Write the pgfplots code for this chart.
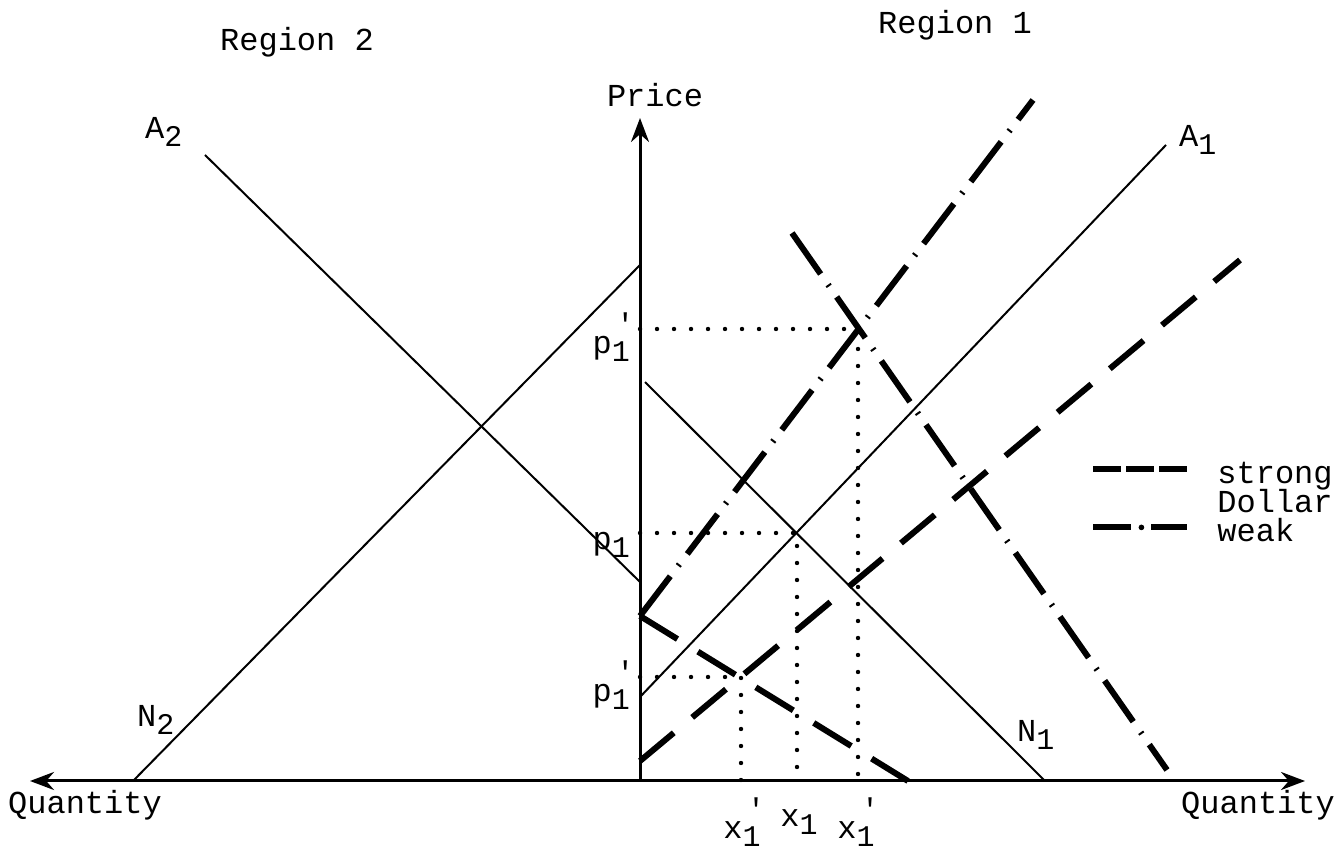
\documentclass[border=0pt]{standalone}
\usepackage{fontspec}
\setmainfont{Liberation Mono}
\usepackage{pgfplots}
\pgfplotsset{compat=1.18}
\usetikzlibrary{arrows.meta}

% subscript, and subscript with a prime stacked above it
\newcommand{\sub}[1]{\raisebox{-0.45ex}{\fontsize{15}{16}\selectfont #1}}
\newcommand{\subp}[1]{\raisebox{-0.45ex}{\fontsize{15}{16}\selectfont\makebox[0pt][l]{\hspace{0.15em}\raisebox{1.7ex}{\textquotesingle}}#1}}

\begin{document}
\begin{tikzpicture}
\begin{axis}[
  x=0.5pt, y=0.5pt,
  xmin=-640, xmax=696,
  ymin=-69, ymax=781,
  hide axis,
  clip=false,
  font=\fontsize{16}{18}\selectfont,
  every node/.append style={inner sep=0pt},
  thinl/.style={black, line width=1pt},
  strong/.style={black, line width=3pt, dash pattern=on 22pt off 12pt},
  weak/.style={black, line width=3pt, dash pattern=on 25pt off 6.5pt on 1pt off 6.5pt},
  dots/.style={black, line width=2.2pt, line cap=round, dash pattern=on 0pt off 8.5pt},
  legend style={at={(axis cs:444,323)}, anchor=north west, draw=none, fill=none,
    font=\fontsize{16}{18}\selectfont, row sep=0.5pt,
    nodes={inner sep=0pt, text height=10.5pt, text depth=3.5pt},
    /tikz/every odd column/.append style={column sep=13.5pt}},
  legend cell align=left,
]
% axes
\addplot[black, line width=1.5pt, {Stealth[length=12pt,width=9pt]}-{Stealth[length=12pt,width=9pt]}, forget plot]
  coordinates {(-610,0) (665,0)};
\addplot[black, line width=1.5pt, -{Stealth[length=12pt,width=9pt]}, forget plot]
  coordinates {(0,0) (0,663)};

% region 2
\addplot[thinl, forget plot] coordinates {(-435,626) (0,199)};   % A2
\addplot[thinl, forget plot] coordinates {(-507,0) (0,516)};     % N2

% region 1
\addplot[thinl, forget plot] coordinates {(5,399) (405,0)};      % N1
\addplot[thinl, forget plot] coordinates {(0,84) (526,636)};     % A1

% strong dollar
\addplot[strong, forget plot] coordinates {(0,20) (600,521)};
\addplot[strong, forget plot] coordinates {(0,165) (268,0)};

% weak dollar
\addplot[weak, forget plot] coordinates {(0,165) (393,681)};
\addplot[weak, forget plot] coordinates {(152,548) (527,11)};

% equilibrium guides
\addplot[dots, forget plot] coordinates {(0,248) (157,248) (157,0)};
\addplot[dots, forget plot] coordinates {(0,452) (218,452) (218,0)};
\addplot[dots, forget plot] coordinates {(0,104) (101,104) (101,0)};

% legend
\addlegendimage{legend image code/.code={\draw[line width=3pt, dash pattern=on 14pt off 2.5pt] (0pt,3.5pt) -- (47pt,3.5pt);}}
\addlegendentry{strong}
\addlegendimage{empty legend}
\addlegendentry{Dollar}
\addlegendimage{legend image code/.code={\draw[line width=3pt] (0pt,3.5pt) -- (19pt,3.5pt); \fill (24pt,3.5pt) circle (1.2pt); \draw[line width=3pt] (29pt,3.5pt) -- (47pt,3.5pt);}}
\addlegendentry{weak}

% labels
\node at (axis cs:-343,739) {Region 2};
\node at (axis cs:315,756) {Region 1};
\node at (axis cs:15,686) {Price};
\node[anchor=west] at (axis cs:-502,649) {A\sub{2}};
\node[anchor=west] at (axis cs:532,641) {A\sub{1}};
\node[anchor=west] at (axis cs:-510,61) {N\sub{2}};
\node[anchor=west] at (axis cs:370,46) {N\sub{1}};
\node[anchor=east] at (axis cs:-3,444) {p\subp{1}};
\node[anchor=east] at (axis cs:-3,236) {p\sub{1}};
\node[anchor=east] at (axis cs:-3,96) {p\subp{1}};
\node at (axis cs:102,-41) {x\subp{1}};
\node at (axis cs:159,-41) {x\sub{1}};
\node at (axis cs:216,-41) {x\subp{1}};
\node at (axis cs:-555,-24) {Quantity};
\node at (axis cs:618,-24) {Quantity};
\end{axis}
\pgfresetboundingbox
\useasboundingbox (0,0) rectangle (668pt,425pt);
\end{tikzpicture}
\end{document}
